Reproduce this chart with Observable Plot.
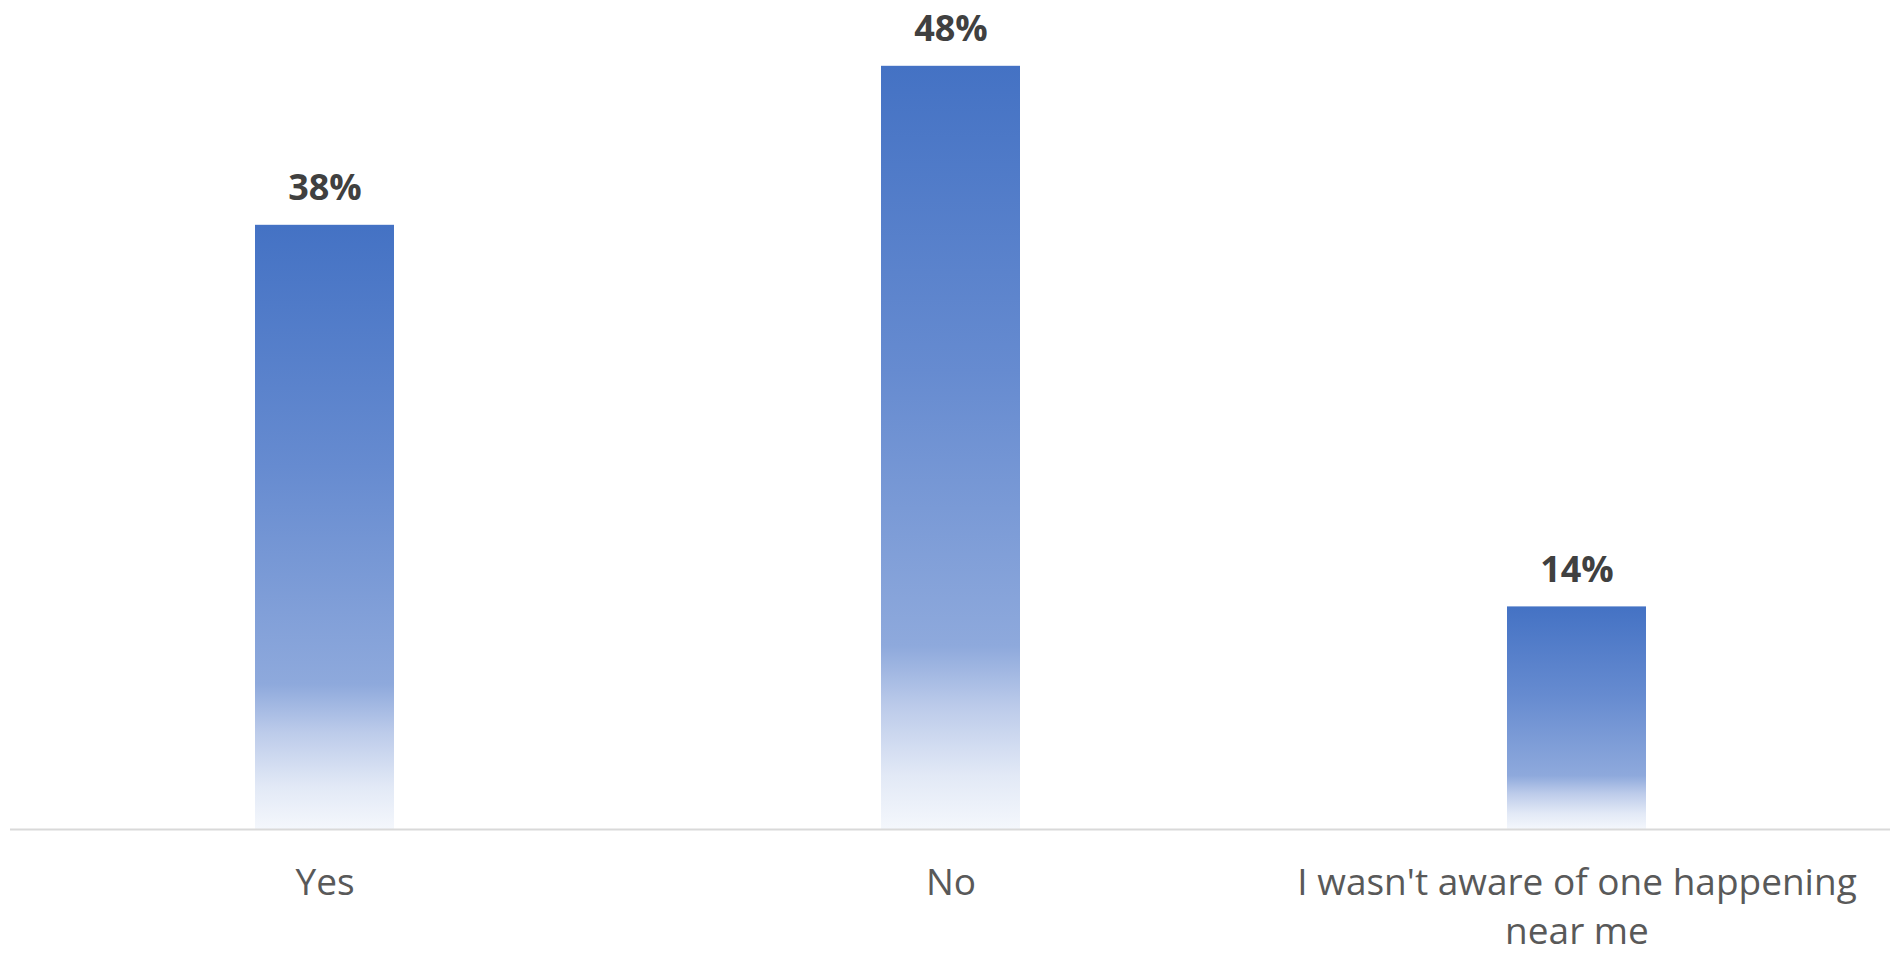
<!DOCTYPE html>
<html>
<head>
<meta charset="utf-8">
<script src="https://cdn.jsdelivr.net/npm/d3@7"></script>
<script src="https://cdn.jsdelivr.net/npm/@observablehq/plot@0.6"></script>
<style>
  html, body { margin: 0; padding: 0; background: #ffffff; }
  #chart svg { display: block; }
</style>
</head>
<body>
<div id="chart"></div>
<script>
const categories = ["Yes", "No", "I wasn't aware of one happening\nnear me"];
const values = [38, 48, 14];
const valueLabels = ["38%", "48%", "14%"];

const data = categories.map((c, i) => ({category: c, value: values[i], label: valueLabels[i]}));

const W = 1896, H = 953;
const chart = Plot.plot({
  width: W,
  height: H,
  marginLeft: 10,
  marginRight: 6,
  marginTop: 34,
  marginBottom: 124,
  style: {fontFamily: "'Open Sans', sans-serif", background: "#ffffff", overflow: "visible"},
  x: {domain: categories, paddingInner: 0.778, paddingOuter: 0.389, axis: null},
  y: {domain: [0, 50], axis: null},
  marks: [
    Plot.barY(data, {x: "category", y: "value", fill: "url(#barGrad)"}),
    Plot.ruleY([0], {stroke: "#d9d9d9", strokeWidth: 2}),
    Plot.text(data, {
      x: "category", y: "value", text: "label",
      dy: -25, lineAnchor: "bottom",
      fontSize: 36, fontWeight: "bold", fill: "#404040"
    }),
    Plot.text(data, {
      x: "category", text: "category",
      frameAnchor: "bottom", lineAnchor: "top", dy: 31,
      lineHeight: 1.32,
      fontSize: 37, fill: "#595959"
    })
  ]
});

const ns = "http://www.w3.org/2000/svg";
const defs = document.createElementNS(ns, "defs");
const grad = document.createElementNS(ns, "linearGradient");
grad.setAttribute("id", "barGrad");
grad.setAttribute("x1", "0"); grad.setAttribute("y1", "0");
grad.setAttribute("x2", "0"); grad.setAttribute("y2", "1");
const stops = [
  [0, "#4472c4"],
  [0.4, "#668bd0"],
  [0.76, "#8ea9dc"],
  [0.84, "#bccbea"],
  [0.93, "#e2e9f6"],
  [1, "#f4f7fc"]
];
for (const [o, c] of stops) {
  const s = document.createElementNS(ns, "stop");
  s.setAttribute("offset", o);
  s.setAttribute("stop-color", c);
  grad.appendChild(s);
}
defs.appendChild(grad);
chart.insertBefore(defs, chart.firstChild);

document.getElementById("chart").appendChild(chart);
</script>
</body>
</html>
